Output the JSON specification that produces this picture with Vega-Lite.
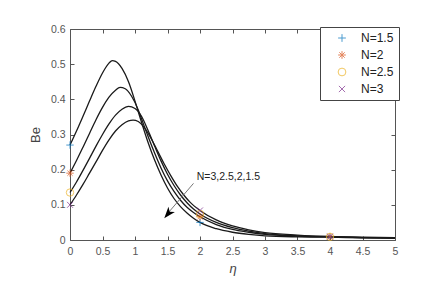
{
"$schema": "https://vega.github.io/schema/vega-lite/v6.json",
"width": 325, "height": 211,
"autosize": "none",
"padding": {"left": 70, "top": 29, "right": 44, "bottom": 48},
"background": "white",
"config": {"view": {"stroke": "#555", "strokeWidth": 1}, "font": "Liberation Sans",
 "legend": {"titleOrient": "left", "titlePadding": 2, "titleFontSize": 6, "titleColor": "rgba(0,0,0,0)", "titleLimit": 100, "symbolOffset": 0}},
"datasets": {
"curves": [
{"N":"N=1.5","eta":0,"Be":0.27},{"N":"N=1.5","eta":0.1,"Be":0.31},{"N":"N=1.5","eta":0.2,"Be":0.352},{"N":"N=1.5","eta":0.3,"Be":0.395},{"N":"N=1.5","eta":0.4,"Be":0.437},{"N":"N=1.5","eta":0.5,"Be":0.475},{"N":"N=1.5","eta":0.6,"Be":0.503},{"N":"N=1.5","eta":0.65,"Be":0.51},{"N":"N=1.5","eta":0.7,"Be":0.508},{"N":"N=1.5","eta":0.8,"Be":0.488},{"N":"N=1.5","eta":0.9,"Be":0.45},{"N":"N=1.5","eta":1.0,"Be":0.395},{"N":"N=1.5","eta":1.1,"Be":0.335},{"N":"N=1.5","eta":1.2,"Be":0.278},{"N":"N=1.5","eta":1.3,"Be":0.228},{"N":"N=1.5","eta":1.4,"Be":0.185},{"N":"N=1.5","eta":1.5,"Be":0.148},{"N":"N=1.5","eta":1.6,"Be":0.118},{"N":"N=1.5","eta":1.7,"Be":0.095},{"N":"N=1.5","eta":1.8,"Be":0.077},{"N":"N=1.5","eta":1.9,"Be":0.062},{"N":"N=1.5","eta":2.0,"Be":0.05},{"N":"N=1.5","eta":2.25,"Be":0.032},{"N":"N=1.5","eta":2.5,"Be":0.022},{"N":"N=1.5","eta":2.75,"Be":0.016},{"N":"N=1.5","eta":3.0,"Be":0.012},{"N":"N=1.5","eta":3.5,"Be":0.009},{"N":"N=1.5","eta":4.0,"Be":0.008},{"N":"N=1.5","eta":4.5,"Be":0.006},{"N":"N=1.5","eta":5.0,"Be":0.005},
{"N":"N=2","eta":0,"Be":0.19},{"N":"N=2","eta":0.1,"Be":0.226},{"N":"N=2","eta":0.2,"Be":0.264},{"N":"N=2","eta":0.3,"Be":0.303},{"N":"N=2","eta":0.4,"Be":0.342},{"N":"N=2","eta":0.5,"Be":0.377},{"N":"N=2","eta":0.6,"Be":0.406},{"N":"N=2","eta":0.7,"Be":0.426},{"N":"N=2","eta":0.77,"Be":0.434},{"N":"N=2","eta":0.85,"Be":0.43},{"N":"N=2","eta":0.95,"Be":0.408},{"N":"N=2","eta":1.05,"Be":0.37},{"N":"N=2","eta":1.1,"Be":0.345},{"N":"N=2","eta":1.2,"Be":0.295},{"N":"N=2","eta":1.3,"Be":0.248},{"N":"N=2","eta":1.4,"Be":0.205},{"N":"N=2","eta":1.5,"Be":0.168},{"N":"N=2","eta":1.6,"Be":0.138},{"N":"N=2","eta":1.7,"Be":0.113},{"N":"N=2","eta":1.8,"Be":0.093},{"N":"N=2","eta":1.9,"Be":0.078},{"N":"N=2","eta":2.0,"Be":0.066},{"N":"N=2","eta":2.25,"Be":0.044},{"N":"N=2","eta":2.5,"Be":0.03},{"N":"N=2","eta":2.75,"Be":0.022},{"N":"N=2","eta":3.0,"Be":0.016},{"N":"N=2","eta":3.5,"Be":0.011},{"N":"N=2","eta":4.0,"Be":0.009},{"N":"N=2","eta":4.5,"Be":0.007},{"N":"N=2","eta":5.0,"Be":0.006},
{"N":"N=2.5","eta":0,"Be":0.135},{"N":"N=2.5","eta":0.1,"Be":0.165},{"N":"N=2.5","eta":0.2,"Be":0.198},{"N":"N=2.5","eta":0.3,"Be":0.232},{"N":"N=2.5","eta":0.4,"Be":0.267},{"N":"N=2.5","eta":0.5,"Be":0.3},{"N":"N=2.5","eta":0.6,"Be":0.33},{"N":"N=2.5","eta":0.7,"Be":0.355},{"N":"N=2.5","eta":0.8,"Be":0.372},{"N":"N=2.5","eta":0.9,"Be":0.38},{"N":"N=2.5","eta":1.0,"Be":0.374},{"N":"N=2.5","eta":1.1,"Be":0.352},{"N":"N=2.5","eta":1.2,"Be":0.312},{"N":"N=2.5","eta":1.3,"Be":0.268},{"N":"N=2.5","eta":1.4,"Be":0.225},{"N":"N=2.5","eta":1.5,"Be":0.187},{"N":"N=2.5","eta":1.6,"Be":0.155},{"N":"N=2.5","eta":1.7,"Be":0.128},{"N":"N=2.5","eta":1.8,"Be":0.106},{"N":"N=2.5","eta":1.9,"Be":0.088},{"N":"N=2.5","eta":2.0,"Be":0.074},{"N":"N=2.5","eta":2.25,"Be":0.05},{"N":"N=2.5","eta":2.5,"Be":0.035},{"N":"N=2.5","eta":2.75,"Be":0.025},{"N":"N=2.5","eta":3.0,"Be":0.018},{"N":"N=2.5","eta":3.5,"Be":0.012},{"N":"N=2.5","eta":4.0,"Be":0.009},{"N":"N=2.5","eta":4.5,"Be":0.007},{"N":"N=2.5","eta":5.0,"Be":0.006},
{"N":"N=3","eta":0,"Be":0.1},{"N":"N=3","eta":0.1,"Be":0.128},{"N":"N=3","eta":0.2,"Be":0.158},{"N":"N=3","eta":0.3,"Be":0.19},{"N":"N=3","eta":0.4,"Be":0.222},{"N":"N=3","eta":0.5,"Be":0.255},{"N":"N=3","eta":0.6,"Be":0.285},{"N":"N=3","eta":0.7,"Be":0.31},{"N":"N=3","eta":0.8,"Be":0.328},{"N":"N=3","eta":0.9,"Be":0.339},{"N":"N=3","eta":0.97,"Be":0.341},{"N":"N=3","eta":1.05,"Be":0.337},{"N":"N=3","eta":1.15,"Be":0.318},{"N":"N=3","eta":1.25,"Be":0.288},{"N":"N=3","eta":1.35,"Be":0.252},{"N":"N=3","eta":1.45,"Be":0.216},{"N":"N=3","eta":1.55,"Be":0.183},{"N":"N=3","eta":1.65,"Be":0.153},{"N":"N=3","eta":1.75,"Be":0.128},{"N":"N=3","eta":1.85,"Be":0.107},{"N":"N=3","eta":2.0,"Be":0.084},{"N":"N=3","eta":2.25,"Be":0.057},{"N":"N=3","eta":2.5,"Be":0.04},{"N":"N=3","eta":2.75,"Be":0.029},{"N":"N=3","eta":3.0,"Be":0.021},{"N":"N=3","eta":3.5,"Be":0.014},{"N":"N=3","eta":4.0,"Be":0.01},{"N":"N=3","eta":4.5,"Be":0.008},{"N":"N=3","eta":5.0,"Be":0.007}
],
"markers": [
{"N":"N=1.5","eta":0,"Be":0.27},{"N":"N=1.5","eta":2,"Be":0.05},{"N":"N=1.5","eta":4,"Be":0.008},
{"N":"N=2","eta":0,"Be":0.19},{"N":"N=2","eta":2,"Be":0.066},{"N":"N=2","eta":4,"Be":0.009},
{"N":"N=2.5","eta":0,"Be":0.135},{"N":"N=2.5","eta":2,"Be":0.074},{"N":"N=2.5","eta":4,"Be":0.009},
{"N":"N=3","eta":0,"Be":0.1},{"N":"N=3","eta":2,"Be":0.084},{"N":"N=3","eta":4,"Be":0.01}
],
"arrow": [{"x1":1.9,"y1":0.161,"x2":1.5,"y2":0.075}],
"head": [{"x":1.45,"y":0.062}],
"label": [{"x":1.95,"y":0.178,"text":"N=3,2.5,2,1.5"}]
},
"layer": [
{"data":{"name":"curves"},
 "mark":{"type":"line","color":"#1a1a1a","strokeWidth":1.3,"interpolate":"monotone"},
 "encoding":{
  "x":{"field":"eta","type":"quantitative","scale":{"domain":[0,5],"nice":false,"zero":false},
   "axis":{"orient":"bottom","values":[0,0.5,1,1.5,2,2.5,3,3.5,4,4.5,5],"format":"~g","tickSize":-4,"tickColor":"#555","domain":false,"grid":false,"labelPadding":10,"labelFontSize":10.5,"labelColor":"#555","labelFlush":false,"title":"η","titleFontStyle":"italic","titleFontWeight":"normal","titleFontSize":13,"titleColor":"#444","titlePadding":6}},
  "y":{"field":"Be","type":"quantitative","scale":{"domain":[0,0.6],"nice":false,"zero":false},
   "axis":{"orient":"left","values":[0,0.1,0.2,0.3,0.4,0.5,0.6],"format":"~g","tickSize":-4,"tickColor":"#555","domain":false,"grid":false,"labelPadding":9,"labelFontSize":10.5,"labelColor":"#555","labelFlush":false,"title":"Be","titleFontWeight":"normal","titleFontSize":13,"titleColor":"#444","titlePadding":8}},
  "detail":{"field":"N"}}},
{"data":{"name":"markers"},
 "mark":{"type":"point","filled":false,"strokeWidth":1,"size":55},
 "encoding":{
  "x":{"field":"eta","type":"quantitative","scale":{"domain":[0,5],"nice":false,"zero":false},"axis":null},
  "y":{"field":"Be","type":"quantitative","scale":{"domain":[0,0.6],"nice":false,"zero":false},"axis":null},
  "color":{"field":"N","type":"nominal","title":"NN","scale":{"domain":["N=1.5","N=2","N=2.5","N=3"],"range":["#0072BD","#D95319","#EDB120","#7E2F8E"]},
   "legend":{"orient":"none","legendX":250,"legendY":-2,"title":"NN","titleOrient":"left","strokeColor":"#444","fillColor":"white","padding":5,"labelFontSize":12,"labelColor":"#222","symbolSize":60,"rowPadding":5,"labelOffset":13,"symbolStrokeWidth":1}},
  "shape":{"field":"N","type":"nominal","title":"NN","scale":{"domain":["N=1.5","N=2","N=2.5","N=3"],"range":["M-1,0L1,0M0,-1L0,1","M-1,0L1,0M0,-1L0,1M-0.7,-0.7L0.7,0.7M-0.7,0.7L0.7,-0.7","circle","M-0.8,-0.8L0.8,0.8M-0.8,0.8L0.8,-0.8"]},
   "legend":{"orient":"none","legendX":250,"legendY":-2,"title":"NN","titleOrient":"left"}}}},
{"data":{"name":"arrow"},
 "mark":{"type":"rule","color":"#777","strokeWidth":1},
 "encoding":{
  "x":{"field":"x1","type":"quantitative","scale":{"domain":[0,5],"nice":false,"zero":false},"axis":null},
  "y":{"field":"y1","type":"quantitative","scale":{"domain":[0,0.6],"nice":false,"zero":false},"axis":null},
  "x2":{"field":"x2"},"y2":{"field":"y2"}}},
{"data":{"name":"head"},
 "mark":{"type":"point","shape":"M0,0L0.8,2.2L0,1.6L-0.8,2.2Z","filled":true,"color":"black","opacity":1,"size":110,"angle":220},
 "encoding":{
  "x":{"field":"x","type":"quantitative","scale":{"domain":[0,5],"nice":false,"zero":false},"axis":null},
  "y":{"field":"y","type":"quantitative","scale":{"domain":[0,0.6],"nice":false,"zero":false},"axis":null}}},
{"data":{"name":"label"},
 "mark":{"type":"text","align":"left","baseline":"middle","fontSize":10.5,"color":"#222"},
 "encoding":{
  "x":{"field":"x","type":"quantitative","scale":{"domain":[0,5],"nice":false,"zero":false},"axis":null},
  "y":{"field":"y","type":"quantitative","scale":{"domain":[0,0.6],"nice":false,"zero":false},"axis":null},
  "text":{"field":"text"}}},
{"data":{"name":"markers"},
 "mark":{"type":"point","opacity":0},
 "encoding":{
  "x":{"field":"eta","type":"quantitative","scale":{"domain":[0,5],"nice":false,"zero":false},
   "axis":{"orient":"top","values":[0,0.5,1,1.5,2,2.5,3,3.5,4,4.5,5],"tickSize":-4,"tickColor":"#555","domain":false,"grid":false,"labels":false,"title":null}},
  "y":{"field":"Be","type":"quantitative","scale":{"domain":[0,0.6],"nice":false,"zero":false},
   "axis":{"orient":"right","values":[0,0.1,0.2,0.3,0.4,0.5,0.6],"tickSize":-4,"tickColor":"#555","domain":false,"grid":false,"labels":false,"title":null}}}}
],
"resolve":{"axis":{"x":"independent","y":"independent"}}
}
